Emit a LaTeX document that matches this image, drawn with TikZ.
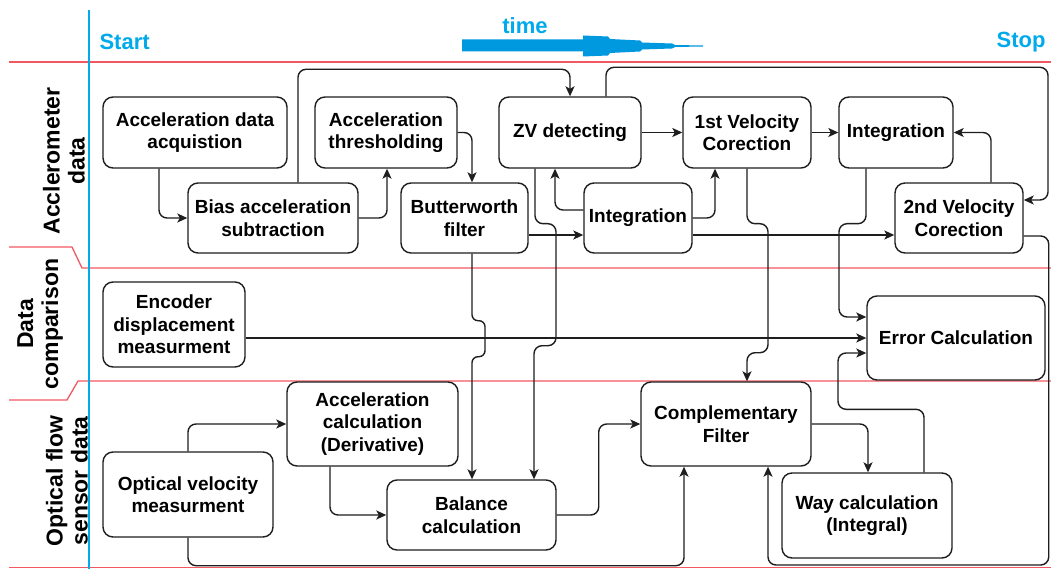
\documentclass[tikz,border=0pt]{standalone}
\usepackage{fontspec}
\setmainfont{Liberation Sans}
\usetikzlibrary{arrows.meta}
\definecolor{lanered}{RGB}{242,88,98}
\definecolor{tblue}{RGB}{0,170,235}
\definecolor{abl}{RGB}{0,152,222}
\definecolor{edgec}{RGB}{30,30,30}
\tikzset{
  box/.style={draw=edgec, line width=1.4pt, rounded corners=10pt, fill=white, align=center,
    font=\fontsize{19}{22.5}\selectfont\bfseries, inner sep=2pt, text=black},
  sz/.style 2 args={minimum width=#1pt, minimum height=#2pt},
  conn/.style={draw=edgec, line width=1.4pt, rounded corners=8pt,
    -{Stealth[length=10pt,width=9pt,inset=2.5pt]}},
  lane/.style={font=\fontsize{23}{25}\selectfont\bfseries, align=center, rotate=90, text=black},
  redl/.style={draw=lanered, line width=1.3pt},
  ttl/.style={font=\fontsize{22}{24}\selectfont\bfseries, text=tblue},
}
\begin{document}
\begin{tikzpicture}[x=1pt,y=-1pt]
\useasboundingbox (0,0) rectangle (1051,569);
\fill[white] (0,0) rectangle (1051,569);

% lanes
\draw[redl] (9,62) -- (1051,62);
\draw[redl] (9,247) -- (72,247) -- (82,268) -- (1051,268);
\draw[redl] (9,400) -- (67,400) -- (78,381) -- (1051,381);
\draw[redl] (9,567.5) -- (1051,567.5);
\draw[draw=tblue, line width=1.5pt] (89,10) -- (89,569);

\node[lane] (lacc) at (64,161) {Acclerometer\\data};
\node[lane] (lcmp) at (40,324) {Data\\comparison};
\node[lane] (lopt) at (67,481) {Optical flow\\sensor data};

% header
\node[ttl, anchor=west] (start) at (96,42) {Start};
\node[ttl, anchor=east] (stop) at (1049,42) {Stop};
\node[ttl] (time) at (525,26) {time};
\fill[abl] (462,39.5) -- (583,39.5) -- (583,35.5) -- (608,36.5) -- (610,39) -- (640,40.5) -- (642,42.5)
  -- (672,43.5) -- (675,45) -- (703,45.5) -- (703,46.5) -- (675,47) -- (672,48.5) -- (642,49.5)
  -- (640,51.5) -- (610,53) -- (608,55.5) -- (583,56.5) -- (583,51.5) -- (462,51.5) -- cycle;

% boxes
\node[box, sz={184}{71}] (acq) at (195,132.5) {Acceleration data\\acquistion};
\node[box, sz={170}{70}] (bias) at (273,218) {Bias acceleration\\subtraction};
\node[box, sz={142}{71}] (thr) at (386,132.5) {Acceleration\\thresholding};
\node[box, sz={127}{70}] (bw) at (464.5,218) {Butterworth\\filter};
\node[box, sz={142}{71}] (zv) at (570,132.5) {ZV detecting};
\node[box, sz={108}{70}] (intm) at (638,218) {Integration};
\node[box, sz={128}{71}] (vc1) at (747,132.5) {1st Velocity\\Corection};
\node[box, sz={114}{71}] (intt) at (896,132.5) {Integration};
\node[box, sz={128}{70}] (vc2) at (959,218) {2nd Velocity\\Corection};
\node[box, sz={142}{85}] (enc) at (174,324.5) {Encoder\\displacement\\measurment};
\node[box, sz={178}{84}] (err) at (956,338) {Error Calculation};
\node[box, sz={171}{84}] (accc) at (372.5,424) {Acceleration\\calculation\\(Derivative)};
\node[box, sz={170}{85}] (ov) at (188,494.5) {Optical velocity\\measurment};
\node[box, sz={169}{70}] (bal) at (471.5,515) {Balance\\calculation};
\node[box, sz={170}{84}] (cf) at (726,424) {Complementary\\Filter};
\node[box, sz={170}{85}] (way) at (867,515.5) {Way calculation\\(Integral)};

% connectors
\draw[conn] ([xshift=-36]acq.south) |- (bias.west);
\draw[conn] (bias.east) -| ([xshift=1]thr.south);
\draw[conn] (thr.east) -| ([xshift=7.5]bw.north);
\draw[conn] ([xshift=25]bias.north) -- ++(0,-113) -| (zv.north);
\draw[conn] (zv.east) -- (vc1.west);
\draw[conn] ([xshift=36]zv.north) -- ++(0,-29) -- ++(442,0) |- ([yshift=18]vc2.east);
\draw[conn] (vc1.east) -- (intt.west);
\draw[conn] ([xshift=32]vc2.north) |- (intt.east);
\draw[conn] ([yshift=8]intm.west) -| ([xshift=-15]zv.south);
\draw[conn] (intm.east) -| ([xshift=-32]vc1.south);
\draw[conn] ([yshift=-17]bw.east) -- ([yshift=-17]intm.west);
\draw[conn] ([yshift=-17]intm.east) -- ([yshift=-17]vc2.west);
\draw[conn] ([yshift=-18]vc2.east) -- ++(25,0) -- ++(0,329) -| ([xshift=42]cf.south);
\draw[conn] ([yshift=-13.5]enc.east) -- (err.west);
\draw[conn] ([xshift=-35]zv.south) -- ++(0,55) -- ++(21,0) -- ++(0,122) -- ++(-22,0) -- ([xshift=62.5]bal.north);
\draw[conn, rounded corners=6pt] ([xshift=7.5]bw.south) -- ++(0,67) -- ++(13,0) -- ++(0,36) -- ++(-13,0) -- ([xshift=0.5]bal.north);
\draw[conn] (vc1.south) -- ++(0,55) -- ++(21,0) -- ++(0,129) -- ++(-21,0) -- ([xshift=21]cf.north);
\draw[conn] ([xshift=-30]intt.south) -- ++(0,55) -- ++(-27,0) |- ([yshift=21]err.west);
\draw[conn] ([xshift=57]way.north) -- ++(0,-63) -- ++(-86,0) |- ([yshift=-15]err.west);
\draw[conn] (cf.east) -| ([xshift=1]way.north);
\draw[conn] (bal.east) -- ++(42,0) |- (cf.west);
\draw[conn] (ov.north) |- (accc.west);
\draw[conn] ([xshift=-42.5]accc.south) |- (bal.west);
\draw[conn] (ov.south) -- ++(0,28) -| ([xshift=-42]cf.south);
\end{tikzpicture}
\end{document}
